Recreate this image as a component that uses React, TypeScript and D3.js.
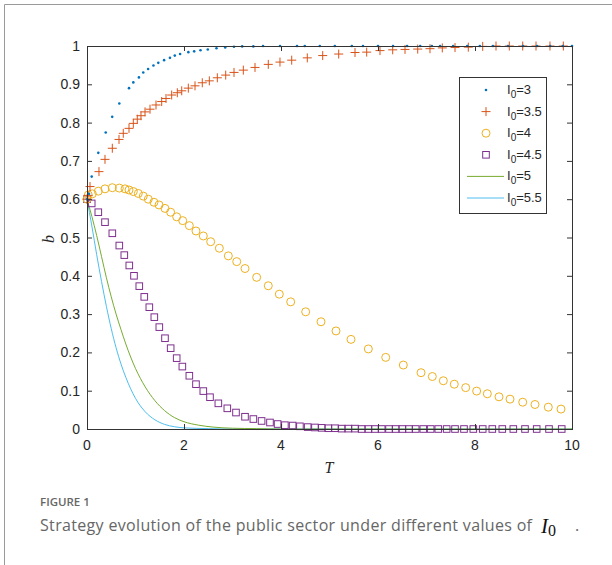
import React from "react";
import * as d3 from "d3";

// Time samples and strategy share b for each initial value I0
const t30 = [0, 0.04, 0.097, 0.233, 0.386, 0.52, 0.666, 0.866, 0.955, 1.07, 1.16, 1.26, 1.37, 1.47, 1.59, 1.71, 1.81, 1.92, 2.09, 2.21, 2.34, 2.49, 2.67, 2.85, 3.03, 3.2, 3.43, 3.63, 3.98, 4.33, 4.49, 4.8, 5.11, 5.46, 5.69, 6.0, 6.31, 6.6, 6.87, 7.11, 7.28, 7.55, 7.84, 8.1, 8.37, 8.68, 8.99, 9.28, 9.55, 9.81, 10];
const b30 = [0.6, 0.614, 0.659, 0.721, 0.774, 0.815, 0.85, 0.89, 0.905, 0.918, 0.931, 0.94, 0.949, 0.956, 0.963, 0.969, 0.975, 0.979, 0.984, 0.986, 0.989, 0.991, 0.994, 0.996, 0.998, 0.999, 0.999, 1, 1, 1, 1, 1, 1, 1, 1, 1, 1, 1, 1, 1, 1, 1, 1, 1, 1, 1, 1, 1, 1, 1, 1];

const t35 = [0, 0.02, 0.062, 0.247, 0.371, 0.522, 0.66, 0.748, 0.866, 0.955, 1.037, 1.113, 1.196, 1.299, 1.423, 1.54, 1.629, 1.746, 1.862, 1.953, 2.089, 2.227, 2.377, 2.522, 2.687, 2.86, 3.031, 3.223, 3.464, 3.738, 3.979, 4.221, 4.542, 4.86, 5.19, 5.526, 5.767, 6.041, 6.303, 6.557, 6.819, 7.072, 7.326, 7.588, 7.862, 8.159, 8.433, 8.707, 8.984, 9.258, 9.546, 9.821];
const b35 = [0.6, 0.61, 0.633, 0.672, 0.704, 0.733, 0.756, 0.772, 0.785, 0.798, 0.809, 0.818, 0.828, 0.835, 0.846, 0.855, 0.863, 0.872, 0.878, 0.883, 0.89, 0.896, 0.904, 0.909, 0.917, 0.924, 0.931, 0.937, 0.944, 0.952, 0.958, 0.963, 0.969, 0.975, 0.979, 0.983, 0.984, 0.988, 0.99, 0.991, 0.992, 0.993, 0.995, 0.996, 0.997, 0.999, 1, 1, 1, 1, 1, 1];

const t40 = [0, 0.027, 0.11, 0.233, 0.371, 0.522, 0.666, 0.784, 0.866, 0.955, 1.058, 1.161, 1.264, 1.381, 1.485, 1.608, 1.725, 1.849, 1.973, 2.11, 2.247, 2.398, 2.55, 2.729, 2.914, 3.087, 3.258, 3.498, 3.738, 3.965, 4.2, 4.509, 4.825, 5.134, 5.443, 5.801, 6.159, 6.522, 6.887, 7.12, 7.347, 7.573, 7.808, 8.034, 8.254, 8.495, 8.722, 8.984, 9.237, 9.511, 9.773];
const b40 = [0.6, 0.611, 0.614, 0.621, 0.627, 0.63, 0.629, 0.627, 0.624, 0.62, 0.615, 0.608, 0.6, 0.592, 0.585, 0.576, 0.566, 0.554, 0.544, 0.531, 0.517, 0.504, 0.489, 0.472, 0.452, 0.437, 0.419, 0.396, 0.374, 0.352, 0.332, 0.306, 0.28, 0.256, 0.234, 0.209, 0.187, 0.167, 0.147, 0.137, 0.126, 0.117, 0.108, 0.099, 0.092, 0.084, 0.078, 0.07, 0.064, 0.057, 0.052];

const t45 = [0, 0.097, 0.233, 0.371, 0.522, 0.666, 0.769, 0.872, 0.969, 1.078, 1.181, 1.285, 1.388, 1.491, 1.608, 1.725, 1.849, 1.966, 2.11, 2.247, 2.398, 2.536, 2.708, 2.893, 3.072, 3.258, 3.43, 3.6, 3.773, 3.93, 4.08, 4.24, 4.39, 4.55, 4.7, 4.84, 4.975, 5.113, 5.251, 5.388, 5.526, 5.664, 5.801, 5.938, 6.076, 6.227, 6.365, 6.501, 6.639, 6.777, 6.934, 7.086, 7.243, 7.416, 7.588, 7.773, 7.965, 8.159, 8.357, 8.563, 8.79, 9.031, 9.272, 9.526, 9.788];
const b45 = [0.6, 0.589, 0.566, 0.54, 0.511, 0.479, 0.454, 0.427, 0.4, 0.373, 0.345, 0.318, 0.292, 0.266, 0.237, 0.211, 0.185, 0.163, 0.139, 0.117, 0.099, 0.083, 0.067, 0.054, 0.043, 0.032, 0.026, 0.021, 0.017, 0.013, 0.01, 0.009, 0.007, 0.005, 0.004, 0.003, 0.002, 0.002, 0.001, 0.001, 0.001, 0, 0, 0, 0, 0, 0, 0, 0, 0, 0, 0, 0, 0, 0, 0, 0, 0, 0, 0, 0, 0, 0, 0, 0];

const t50 = [0, 0.1, 0.2, 0.3, 0.4, 0.5, 0.6, 0.7, 0.8, 0.9, 1.0, 1.2, 1.4, 1.6, 1.8, 2.0, 2.3, 2.6, 3.0, 3.5, 4, 10];
const b50 = [0.6, 0.555, 0.505, 0.45, 0.395, 0.345, 0.3, 0.26, 0.222, 0.188, 0.158, 0.11, 0.074, 0.048, 0.03, 0.019, 0.01, 0.005, 0.002, 0.001, 0, 0];

const t55 = [0, 0.1, 0.2, 0.3, 0.4, 0.5, 0.6, 0.7, 0.8, 0.9, 1.0, 1.2, 1.4, 1.6, 1.8, 2.0, 2.5, 3, 10];
const b55 = [0.6, 0.53, 0.455, 0.385, 0.32, 0.262, 0.212, 0.17, 0.135, 0.105, 0.08, 0.045, 0.024, 0.012, 0.006, 0.003, 0.001, 0, 0];

const xTicks = [0, 2, 4, 6, 8, 10];
const yTicks = [0, 0.1, 0.2, 0.3, 0.4, 0.5, 0.6, 0.7, 0.8, 0.9, 1];
const legendLabels = ["3", "3.5", "4", "4.5", "5", "5.5"];

const BLUE = "#0072BD";
const ORANGE = "#D95319";
const YELLOW = "#EDB120";
const PURPLE = "#7E2F8E";
const GREEN = "#77AC30";
const CYAN = "#4DBEEE";

const W = 612;
const H = 565;
const L = 87, R = 572, T = 46, B = 429;

const zip = (t: number[], b: number[]) => t.map((v, i) => [v, b[i]] as [number, number]);

export default function App() {
  const x = d3.scaleLinear().domain([0, 10]).range([L, R]);
  const y = d3.scaleLinear().domain([0, 1]).range([B, T]);
  const line = d3
    .line<[number, number]>()
    .x((d) => x(d[0]))
    .y((d) => y(d[1]))
    .curve(d3.curveMonotoneX);

  const axisColor = "#333";
  const tickLen = 5;
  const font = "'Liberation Sans', Arial, sans-serif";
  const serif = "'Liberation Serif', 'Times New Roman', serif";
  const capFont = "'Open Sans', sans-serif";

  const legendX = 459, legendY = 77, legendW = 87, legendH = 136;
  const legendRowY = (i: number) => 90 + i * 21.6;
  const symX = 486;

  const dot = (cx: number, cy: number, key: string | number) => (
    <circle key={key} cx={cx} cy={cy} r={1.3} fill={BLUE} />
  );
  const plus = (cx: number, cy: number, key: string | number) => (
    <path key={key} d={`M${cx - 4.5},${cy}H${cx + 4.5}M${cx},${cy - 4.5}V${cy + 4.5}`} stroke={ORANGE} strokeWidth={1} fill="none" />
  );
  const ring = (cx: number, cy: number, key: string | number) => (
    <circle key={key} cx={cx} cy={cy} r={4} stroke={YELLOW} strokeWidth={1} fill="none" />
  );
  const square = (cx: number, cy: number, key: string | number) => (
    <rect key={key} x={cx - 3.3} y={cy - 3.3} width={6.6} height={6.6} stroke={PURPLE} strokeWidth={1} fill="none" />
  );

  return (
    <svg width={W} height={H} style={{ position: "absolute", left: 0, top: 0, background: "#fff" }}>
      {/* page frame */}
      <path d="M4.5,565V4.5H612" stroke="#9a9a9a" strokeWidth={1} fill="none" />

      {/* series */}
      <path d={line(zip(t55, b55)) ?? ""} stroke={CYAN} strokeWidth={1} fill="none" />
      <path d={line(zip(t50, b50)) ?? ""} stroke={GREEN} strokeWidth={1} fill="none" />
      <g>{zip(t45, b45).map((d, i) => square(x(d[0]), y(d[1]), i))}</g>
      <g>{zip(t40, b40).map((d, i) => ring(x(d[0]), y(d[1]), i))}</g>
      <g>{zip(t35, b35).map((d, i) => plus(x(d[0]), y(d[1]), i))}</g>
      <g>{zip(t30, b30).map((d, i) => dot(x(d[0]), y(d[1]), i))}</g>

      {/* axes box */}
      <rect x={L + 0.5} y={T + 0.5} width={R - L} height={B - T} fill="none" stroke={axisColor} strokeWidth={1} />
      {xTicks.map((v) => (
        <g key={"x" + v}>
          <line x1={x(v) + 0.5} x2={x(v) + 0.5} y1={B} y2={B - tickLen} stroke={axisColor} />
          <line x1={x(v) + 0.5} x2={x(v) + 0.5} y1={T} y2={T + tickLen} stroke={axisColor} />
          <text x={x(v)} y={450} textAnchor="middle" fontFamily={font} fontSize={14} fill="#262626">
            {v}
          </text>
        </g>
      ))}
      {yTicks.map((v) => (
        <g key={"y" + v}>
          <line x1={L} x2={L + tickLen} y1={y(v) + 0.5} y2={y(v) + 0.5} stroke={axisColor} />
          <line x1={R} x2={R - tickLen} y1={y(v) + 0.5} y2={y(v) + 0.5} stroke={axisColor} />
          <text x={80} y={y(v) + 5} textAnchor="end" fontFamily={font} fontSize={14} fill="#262626">
            {d3.format("~g")(v)}
          </text>
        </g>
      ))}

      {/* axis titles */}
      <text x={329} y={473} textAnchor="middle" fontFamily={serif} fontStyle="italic" fontSize={16} fill="#262626">
        T
      </text>
      <text transform="translate(54,239) rotate(-90)" textAnchor="middle" fontFamily={serif} fontStyle="italic" fontSize={16} fill="#262626">
        b
      </text>

      {/* legend */}
      <rect x={legendX + 0.5} y={legendY + 0.5} width={legendW} height={legendH} fill="#fff" stroke={axisColor} strokeWidth={1} />
      {legendLabels.map((lab, i) => {
        const cy = legendRowY(i);
        let sym: React.ReactNode = null;
        if (i === 0) sym = dot(symX, cy, "s");
        if (i === 1) sym = plus(symX, cy, "s");
        if (i === 2) sym = ring(symX, cy, "s");
        if (i === 3) sym = square(symX, cy, "s");
        if (i === 4) sym = <line x1={467} x2={504} y1={cy} y2={cy} stroke={GREEN} />;
        if (i === 5) sym = <line x1={467} x2={504} y1={cy} y2={cy} stroke={CYAN} />;
        return (
          <g key={lab}>
            {sym}
            <text x={507} y={cy + 4} fontFamily={font} fontSize={13} fill="#262626">
              I
              <tspan dy={4} fontSize={10}>0</tspan>
              <tspan dy={-4}>={lab}</tspan>
            </text>
          </g>
        );
      })}

      {/* caption */}
      <text x={40} y={506} fontFamily={capFont} fontWeight={600} fontSize={11.5} fill="#666">
        FIGURE 1
      </text>
      <text x={40} y={531} fontFamily={capFont} fontSize={16} textLength={492} lengthAdjust="spacing" fill="#666">
        Strategy evolution of the public sector under different values of
      </text>
      <text x={541} y={533} fontFamily={serif} fill="#111">
        <tspan fontStyle="italic" fontSize={21}>I</tspan>
        <tspan fontSize={16} dy={3}>0</tspan>
      </text>
      <text x={575} y={531} fontFamily={capFont} fontSize={16} fill="#666">
        .
      </text>
    </svg>
  );
}
